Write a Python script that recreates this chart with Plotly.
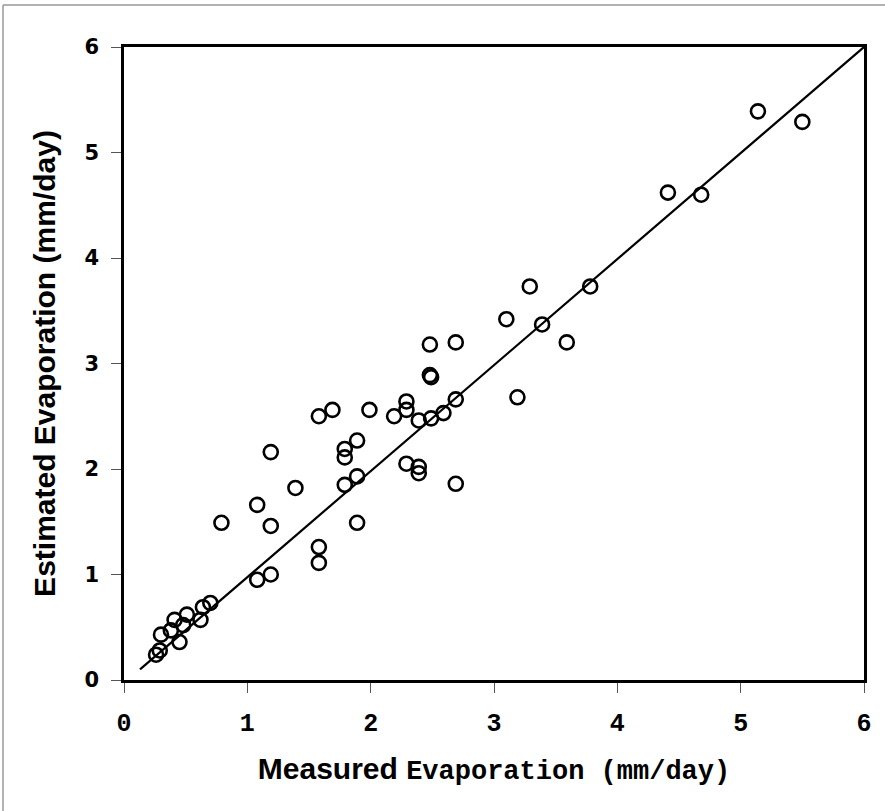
import plotly.graph_objects as go

measured = [5.50, 5.14, 4.41, 4.68, 3.29, 3.78, 3.10, 3.39, 3.59, 3.19,
            2.48, 2.69, 2.48, 2.49, 2.69, 2.59, 2.49, 2.39, 2.29, 2.29,
            2.19, 1.99, 1.69, 1.58, 1.19, 1.89, 1.79, 1.79, 2.29, 2.39,
            2.39, 2.69, 1.89, 1.79, 1.39, 1.08, 1.19, 0.79, 1.89, 1.58,
            1.58, 1.19, 1.08, 0.70, 0.64, 0.51, 0.41, 0.62, 0.48, 0.38,
            0.30, 0.45, 0.29, 0.26]
estimated = [5.29, 5.39, 4.62, 4.60, 3.73, 3.73, 3.42, 3.37, 3.20, 2.68,
             3.18, 3.20, 2.89, 2.87, 2.66, 2.53, 2.48, 2.46, 2.64, 2.56,
             2.50, 2.56, 2.56, 2.50, 2.16, 2.27, 2.19, 2.11, 2.05, 2.02,
             1.96, 1.86, 1.93, 1.85, 1.82, 1.66, 1.46, 1.49, 1.49, 1.26,
             1.11, 1.00, 0.95, 0.73, 0.69, 0.62, 0.57, 0.57, 0.52, 0.47,
             0.43, 0.36, 0.28, 0.24]
line_x = [0.13, 6.0]
line_y = [0.10, 6.0]
ticks = [0, 1, 2, 3, 4, 5, 6]

fig = go.Figure()
fig.add_trace(go.Scatter(x=line_x, y=line_y, mode="lines",
                         line=dict(color="black", width=2.2), hoverinfo="skip"))
fig.add_trace(go.Scatter(x=measured, y=estimated, mode="markers",
                         marker=dict(symbol="circle-open", size=14, color="black",
                                     line=dict(width=2.6, color="black"))))

W, H = 885, 811
L, R, T, B = 124, 21, 47, 131
pw, ph = W - L - R, H - T - B

def px(x):
    return (x - L) / pw

def py(y):
    return (H - B - y) / ph

fig.update_layout(
    width=W, height=H,
    margin=dict(l=L, r=R, t=T, b=B, autoexpand=False),
    paper_bgcolor="white", plot_bgcolor="white",
    showlegend=False,
    xaxis=dict(range=[0, 6], tickvals=ticks, ticks="outside", ticklen=10,
               tickcolor="#555", tickwidth=1, ticklabelstandoff=8,
               showline=True, linecolor="black", linewidth=2.5, mirror=True,
               showgrid=False, zeroline=False, automargin=False,
               tickfont=dict(family="Liberation Mono", size=25,
                             color="black", weight="bold"),
               title=dict(text="<span style='font-family:Liberation Sans;font-size:30px'>Measured </span>"
                               "<span style='font-family:Liberation Mono;font-size:27px'>Evaporation (mm/day)</span>",
                          font=dict(size=28, color="black", weight="bold"), standoff=22)),
    yaxis=dict(range=[0, 6], tickvals=ticks, ticks="outside", ticklen=10,
               tickcolor="#555", tickwidth=1, ticklabelstandoff=8,
               showline=True, linecolor="black", linewidth=2.5, mirror=True,
               showgrid=False, zeroline=False, automargin=False,
               tickfont=dict(family="DejaVu Sans", size=21, color="black", weight="bold"),
               title=dict(text="Estimated Evaporation (mm/day)",
                          font=dict(family="Liberation Sans", size=30, color="black", weight="bold"),
                          standoff=20)),
    shapes=[
        dict(type="line", xref="paper", yref="paper", x0=px(3), x1=px(3), y0=py(5), y1=py(811),
             line=dict(color="#999", width=1.5)),
        dict(type="line", xref="paper", yref="paper", x0=px(3), x1=px(885), y0=py(5), y1=py(5),
             line=dict(color="#999", width=1.5)),
    ],
)

fig.write_html("out.html", config={"displayModeBar": False},
               post_script="document.body.style.margin='0';document.body.style.padding='0';")
